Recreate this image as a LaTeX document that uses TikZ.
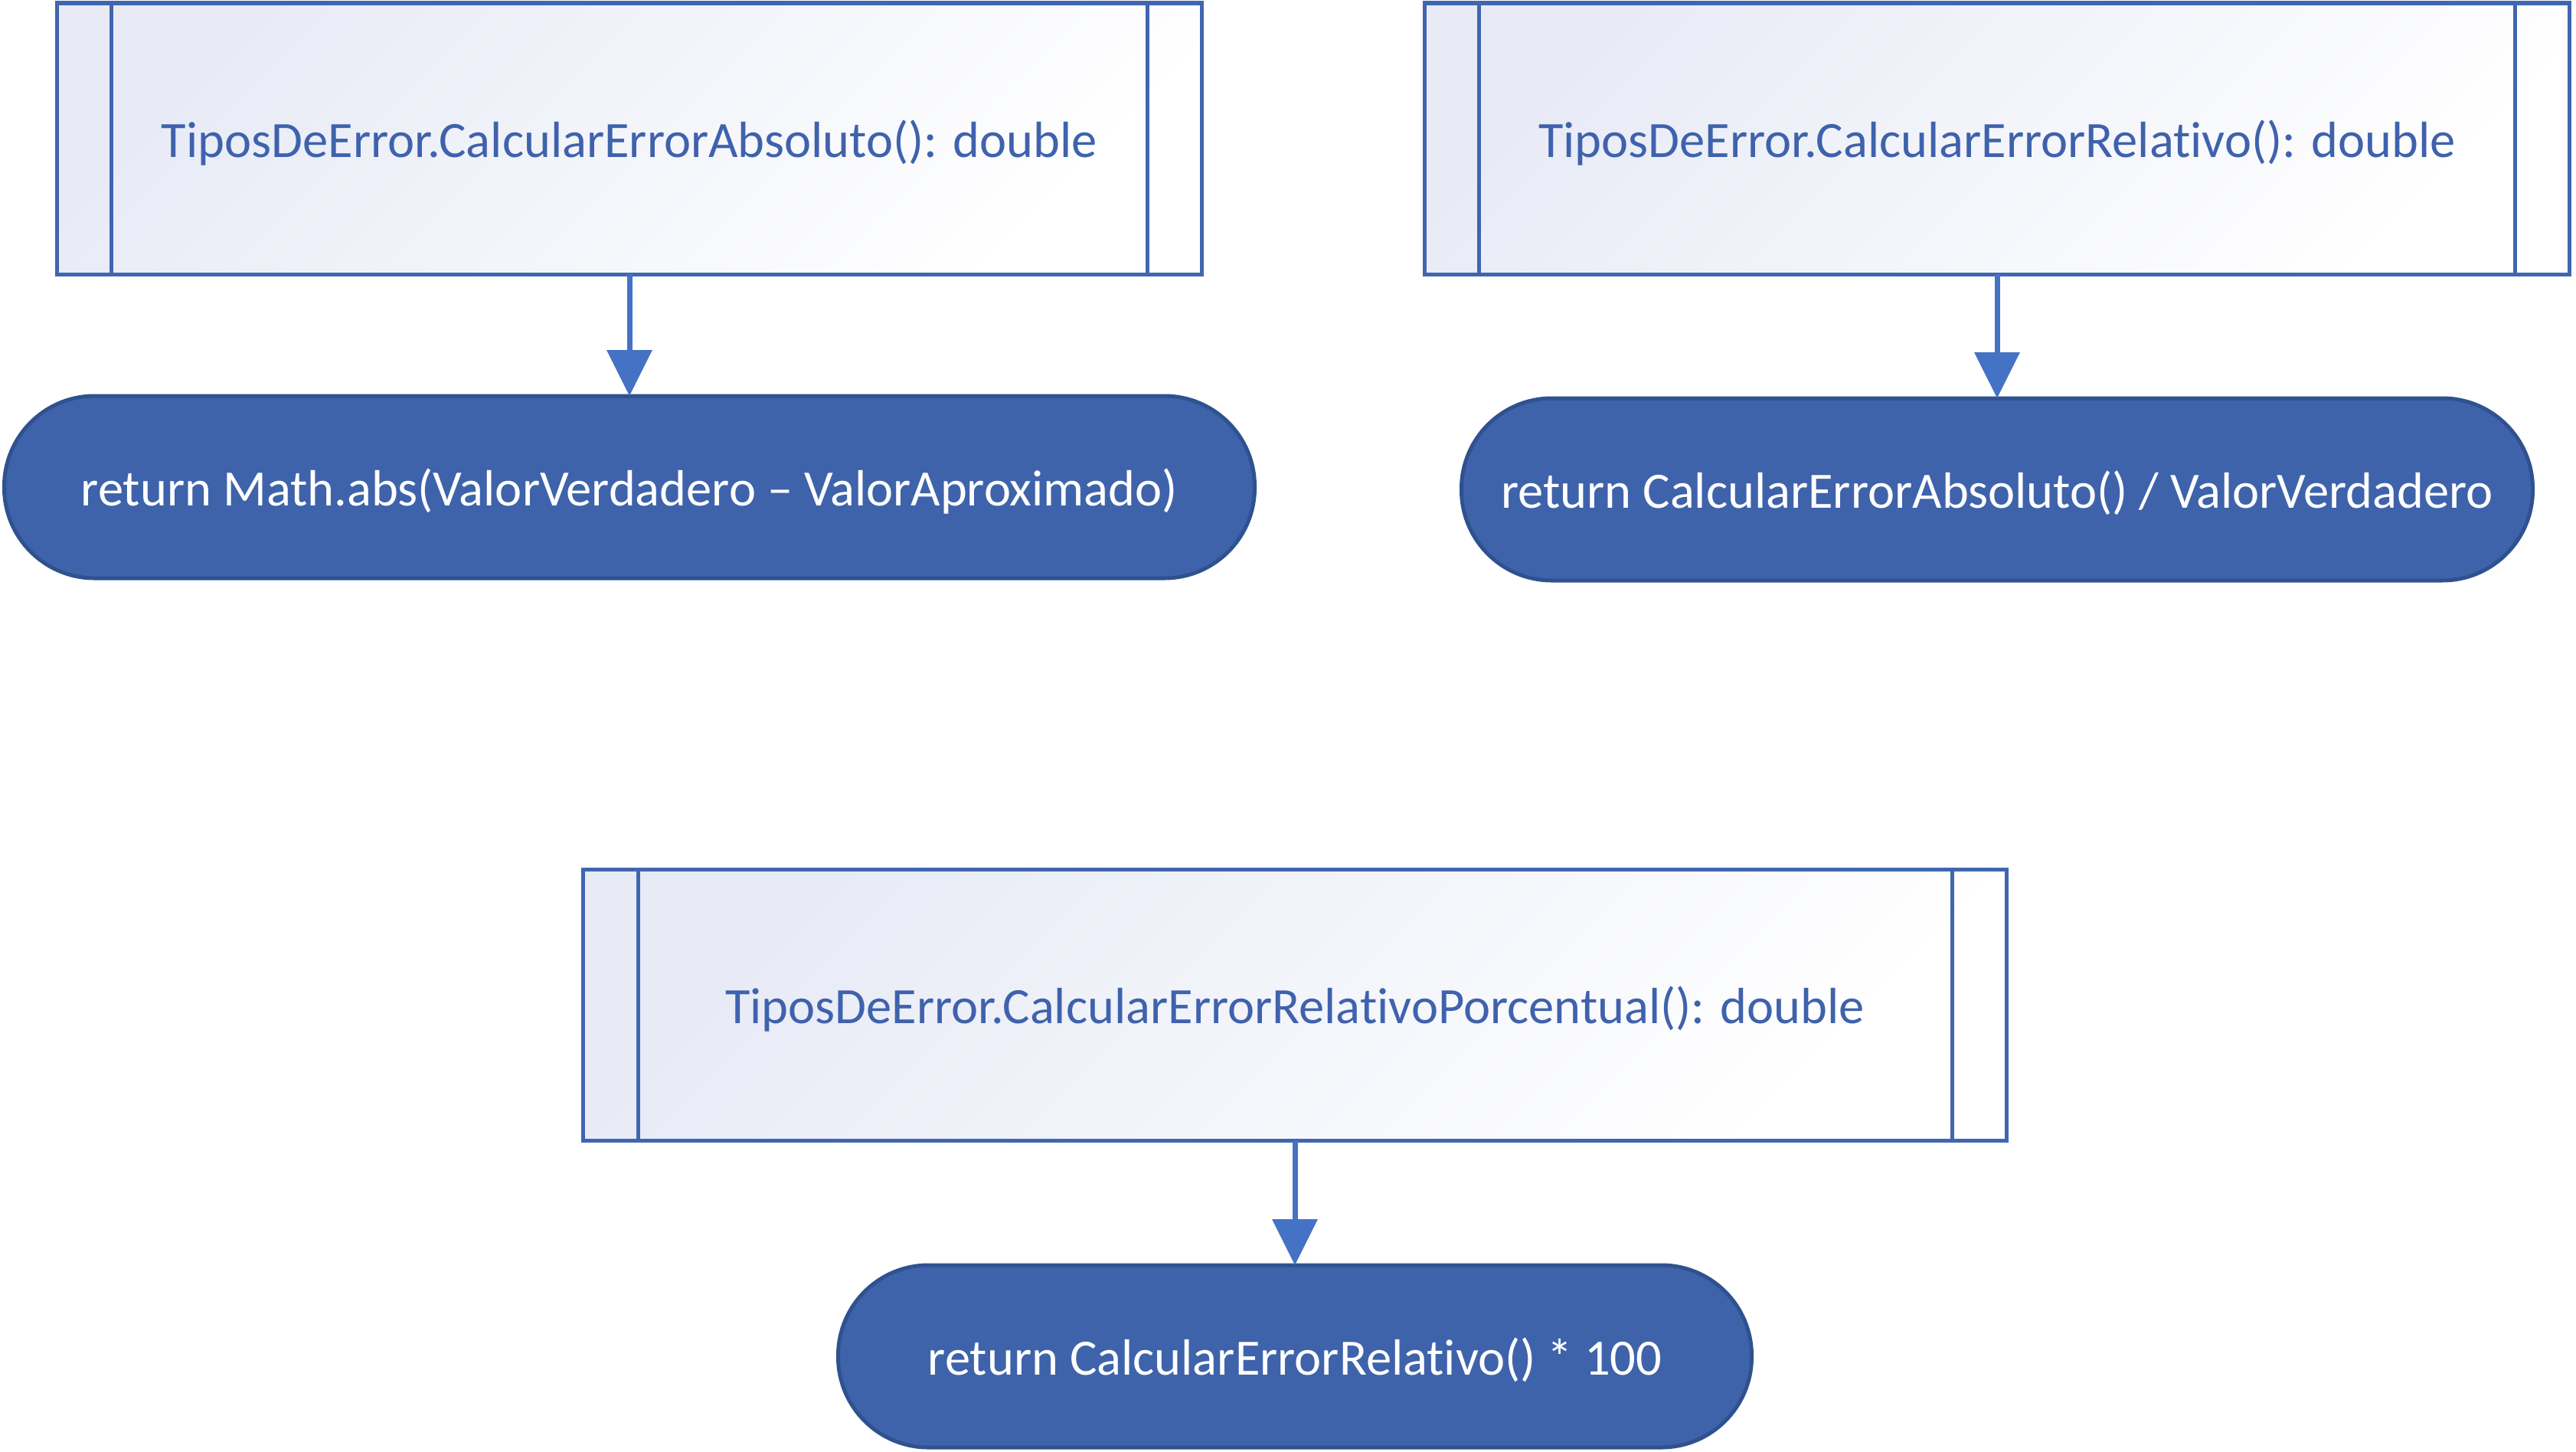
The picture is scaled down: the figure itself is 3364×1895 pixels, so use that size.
\documentclass[tikz,border=0pt]{standalone}
\usepackage{fontspec}
\setmainfont{Carlito}[Ligatures={NoCommon}]
\usetikzlibrary{arrows.meta}
\definecolor{boxline}{HTML}{4066B0}
\definecolor{boxtext}{HTML}{3F62AD}
\definecolor{termfill}{HTML}{3E63AB}
\definecolor{termline}{HTML}{2F528F}
\definecolor{arrowc}{HTML}{4472C4}
\definecolor{shadec}{HTML}{E8EBF6}
\newcommand\dgfont{\fontsize{66.75pt}{80pt}\selectfont}
\tikzset{
 subbox/.style={draw=boxline, line width=5bp, left color=shadec, right color=white, shading angle=45, minimum height=354bp, inner sep=0pt, outer sep=0pt, text=boxtext, font=\dgfont, text height=60bp, text depth=11bp},
 term/.style={draw=termline, line width=5bp, fill=termfill, rounded corners=118bp, minimum height=238bp, inner sep=0pt, outer sep=0pt, text=white, font=\dgfont, text height=60bp, text depth=11bp},
 arr/.style={draw=arrowc, line width=7bp, -{Triangle[length=60bp,width=58bp]}},
 sideline/.style={draw=boxline, line width=5bp}
}
\begin{document}
\begin{tikzpicture}[x=1bp,y=-1bp]
\useasboundingbox[fill=white] (0,0) rectangle (3364,1895);
% top left
\node[subbox, minimum width=1495bp] (b1) at (822,181) {TiposDeError.CalcularErrorAbsoluto(): double};
\node[term, minimum width=1633bp] (t1) at (822,636) {return Math.abs(ValorVerdadero – ValorAproximado)};
% top right
\node[subbox, minimum width=1495bp] (b2) at (2608,181) {TiposDeError.CalcularErrorRelativo(): double};
\node[term, minimum width=1399bp] (t2) at (2608,639) {return CalcularErrorAbsoluto() / ValorVerdadero};
% bottom
\node[subbox, minimum width=1858bp] (b3) at (1691,1312) {TiposDeError.CalcularErrorRelativoPorcentual(): double};
\node[term, minimum width=1193bp] (t3) at (1691,1771) {return CalcularErrorRelativo() * 100};
% side lines of the subprocess boxes
\foreach \b in {b1,b2,b3}{
  \draw[sideline] ([xshift=71bp]\b.north west) -- ([xshift=71bp]\b.south west);
  \draw[sideline] ([xshift=-71bp]\b.north east) -- ([xshift=-71bp]\b.south east);
}
% connectors
\draw[arr] (b1) -- (t1);
\draw[arr] (b2) -- (t2);
\draw[arr] (b3) -- (t3);
\end{tikzpicture}
\end{document}
